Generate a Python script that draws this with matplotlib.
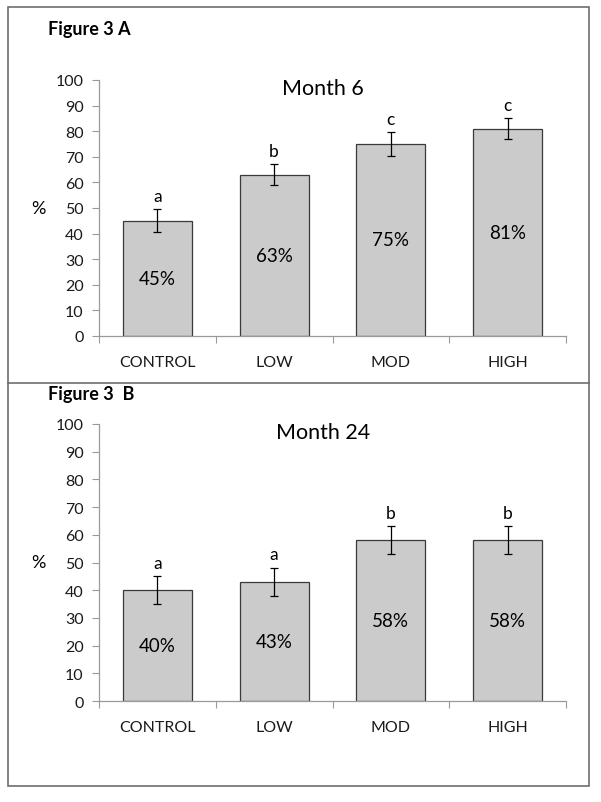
import numpy as np
import matplotlib
matplotlib.use('Agg')
import matplotlib.pyplot as plt
from matplotlib.patches import Rectangle
from matplotlib.lines import Line2D

plt.rcParams['font.family'] = ['Lato', 'DejaVu Sans']

# Datos
grupos = ['CONTROL', 'LOW', 'MOD', 'HIGH']
mes6 = [45, 63, 75, 81]
mes6_err = [4.5, 4, 4.5, 4]
mes6_letras = ['a', 'b', 'c', 'c']
mes24 = [40, 43, 58, 58]
mes24_err = [5, 5, 5, 5]
mes24_letras = ['a', 'a', 'b', 'b']

fig = plt.figure(figsize=(6.01, 8.03), dpi=100)

# Marco exterior y separador
fig.patches.append(Rectangle((8/601, 1-787/803), 581/601, 779/803, transform=fig.transFigure,
                             fill=False, edgecolor='#6e6e6e', linewidth=1.2))
fig.lines.append(Line2D([8/601, 589/601], [1-384/803, 1-384/803], transform=fig.transFigure,
                        color='#6e6e6e', linewidth=1.2))


def panel(rect, valores, errores, letras, titulo, etiqueta_fig, fig_y):
    ax = fig.add_axes(rect)
    x = np.arange(len(grupos))
    ax.bar(x, valores, width=0.59, color='#cbcbcb', edgecolor='#3a3a3a', linewidth=0.9, zorder=2)
    ax.errorbar(x, valores, yerr=errores, fmt='none', ecolor='black', elinewidth=0.9,
                capsize=3, capthick=0.9, zorder=3)
    for xi, v, e, l in zip(x, valores, errores, letras):
        ax.text(xi, v + e + 2, l, ha='center', va='bottom', fontsize=12.5, color='black')
        ax.text(xi, v / 2, f'{v}%', ha='center', va='center', fontsize=13.5, color='black')
    ax.set_xlim(-0.5, 3.5)
    ax.set_ylim(0, 100)
    ax.set_yticks(range(0, 101, 10))
    ax.set_xticks(np.arange(-0.5, 4, 1))
    ax.set_xticklabels([])
    ax.set_xticks(x, minor=True)
    ax.set_xticklabels(grupos, minor=True)
    ax.tick_params(axis='x', which='minor', length=0, pad=14, labelsize=11.5, labelcolor='#1a1a1a')
    ax.tick_params(axis='x', which='major', length=5, color='#9a9a9a', direction='out')
    ax.tick_params(axis='y', length=5, color='#9a9a9a', labelsize=11.5, labelcolor='#1a1a1a', pad=6)
    for s in ['top', 'right']:
        ax.spines[s].set_visible(False)
    for s in ['left', 'bottom']:
        ax.spines[s].set_color('#9a9a9a')
        ax.spines[s].set_linewidth(0.9)
    ax.text(0.48, 0.97, titulo, transform=ax.transAxes, ha='center', va='center', fontsize=15.5)
    ax.text(-0.13, 50, '%', transform=ax.get_yaxis_transform(), ha='center', va='center', fontsize=13)
    fig.text(48/601, fig_y, etiqueta_fig, ha='left', va='center', fontsize=13, fontweight='bold')
    return ax


panel([99/601, 1-337/803, 467/601, 256/803], mes6, mes6_err, mes6_letras,
      'Month 6', 'Figure 3 A', 1-30/803)
panel([99/601, 1-702/803, 467/601, 277/803], mes24, mes24_err, mes24_letras,
      'Month 24', 'Figure 3  B', 1-395/803)

fig.savefig('out.png', dpi=100)
